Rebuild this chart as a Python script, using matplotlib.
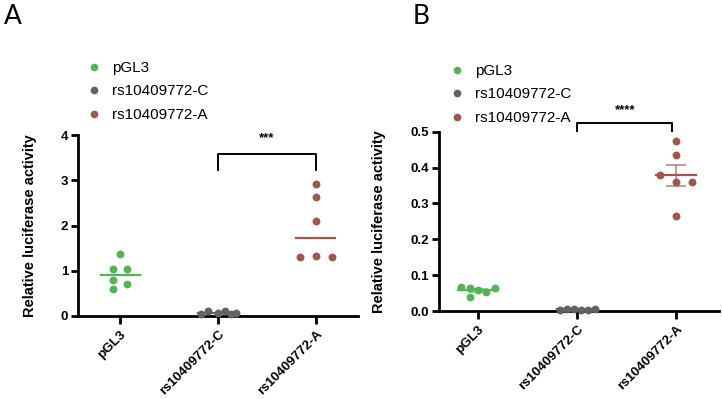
"""Dual-luciferase reporter scatter plots, panels A and B."""

import numpy as np
import matplotlib as mpl
import matplotlib.pyplot as plt
from matplotlib.lines import Line2D

mpl.rcParams.update(
    {
        "font.family": ["Liberation Sans", "DejaVu Sans"],
        "axes.linewidth": 2.0,
        "xtick.major.width": 2.0,
        "ytick.major.width": 2.0,
        "axes.spines.top": False,
        "axes.spines.right": False,
    }
)

GROUPS = ["pGL3", "rs10409772-C", "rs10409772-A"]
COLORS = ["#52B552", "#626262", "#A0564B"]

# panel A (line = median)
a_pgl3 = [1.37, 1.03, 1.03, 0.79, 0.70, 0.59]
a_c = [0.05, 0.12, 0.07, 0.10, 0.04, 0.07]
a_a = [2.92, 2.64, 2.11, 1.30, 1.33, 1.30]
a_ticks = [0, 1, 2, 3, 4]

# panel B (line = mean +/- SEM)
b_pgl3 = [0.066, 0.040, 0.063, 0.058, 0.054, 0.065]
b_c = [0.004, 0.006, 0.005, 0.004, 0.003, 0.006]
b_a = [0.474, 0.434, 0.379, 0.360, 0.360, 0.264]
b_ticks = [0.0, 0.1, 0.2, 0.3, 0.4, 0.5]

# horizontal jitter of the dots within each column
a_jit = [
    [0.0, -0.07, 0.07, -0.07, 0.07, -0.07],
    [-0.17, -0.1, 0.0, 0.07, 0.13, 0.18],
    [0.0, 0.0, 0.0, -0.16, 0.0, 0.16],
]
b_jit = [
    [-0.17, -0.08, -0.08, 0.0, 0.08, 0.17],
    [-0.17, -0.1, -0.03, 0.04, 0.11, 0.18],
    [0.0, 0.0, -0.16, 0.0, 0.16, 0.0],
]


def draw_panel(ax, data, jit, stat):
    for i, (vals, dx, col) in enumerate(zip(data, jit, COLORS)):
        vals = np.asarray(vals)
        ax.scatter(i + np.asarray(dx), vals, s=32, color=col, zorder=3,
                   clip_on=False, linewidths=0)
        if stat == "median":
            m = np.median(vals)
            ax.plot([i - 0.2, i + 0.2], [m, m], color=col, lw=1.6, zorder=2)
        else:
            m = vals.mean()
            sem = vals.std(ddof=1) / np.sqrt(len(vals))
            ax.plot([i - 0.2, i + 0.2], [m, m], color=col, lw=1.6, zorder=4)
            ax.errorbar(i, m, yerr=sem, color=col, alpha=0.6, lw=1.4,
                        capsize=7, capthick=1.4, zorder=2)
    ax.set_xticks(range(len(GROUPS)))
    ax.set_xticklabels(GROUPS, rotation=45, ha="right", rotation_mode="anchor",
                       fontsize=9.5, fontweight="bold")
    ax.tick_params(axis="x", length=6, pad=3)
    ax.tick_params(axis="y", length=5, pad=2, labelsize=9.5)
    ax.set_ylabel("Relative luciferase activity", fontsize=10.5,
                  fontweight="bold")


def bracket(ax, x0, x1, y, drop, stars, ty):
    ax.plot([x0, x0, x1, x1], [y - drop, y, y, y - drop], color="black",
            lw=1.4, clip_on=False)
    ax.text((x0 + x1) / 2, ty, stars, ha="center", va="center", fontsize=9.5,
            fontweight="bold")


def legend(fig, ax, x, y):
    handles = [Line2D([], [], ls="none", marker="o", ms=5.5, color=c,
                      markeredgewidth=0) for c in COLORS]
    ax.legend(handles, GROUPS, loc="upper left", bbox_to_anchor=(x, y),
              bbox_transform=fig.transFigure, frameon=False, fontsize=11,
              handletextpad=0.55, labelspacing=0.62, handlelength=1.2,
              borderaxespad=0, borderpad=0)


fig = plt.figure(figsize=(7.22, 3.99), dpi=100)

axA = fig.add_axes([78 / 722, 1 - 316 / 399, 280 / 722, 181 / 399])
draw_panel(axA, [a_pgl3, a_c, a_a], a_jit, "median")
axA.set_ylim(0, 4)
axA.set_yticks(a_ticks)
axA.set_xlim(-0.43, 2.43)
for lab in axA.get_yticklabels():
    lab.set_fontweight("bold")
axA.yaxis.set_label_coords(-0.145, 0.5)
bracket(axA, 1, 2, 3.58, 0.36, "***", 3.93)
legend(fig, axA, 85 / 722, 1 - 61 / 399)

axB = fig.add_axes([439 / 722, 1 - 311 / 399, 280 / 722, 179.3 / 399])
draw_panel(axB, [b_pgl3, b_c, b_a], b_jit, "mean")
axB.set_ylim(0, 0.5)
axB.set_yticks(b_ticks)
axB.set_yticklabels([f"{t:.1f}" for t in b_ticks])
for lab in axB.get_yticklabels():
    lab.set_fontweight("bold")
axB.set_xlim(-0.39, 2.43)
axB.yaxis.set_label_coords(-0.19, 0.5)
bracket(axB, 1, 1.96, 0.524, 0.022, "****", 0.56)
legend(fig, axB, 448 / 722, 1 - 64 / 399)

fig.text(4 / 722, 1 - 4 / 399, "A", fontsize=19, family=["Lato", "DejaVu Sans"],
         va="top", ha="left")
fig.text(413 / 722, 1 - 4 / 399, "B", fontsize=19,
         family=["Lato", "DejaVu Sans"], va="top", ha="left")

fig.savefig("out.png", dpi=100)
